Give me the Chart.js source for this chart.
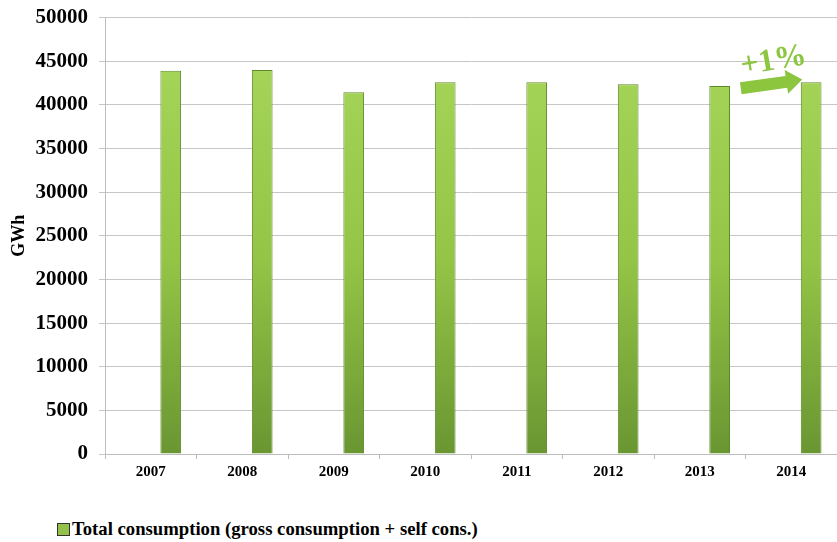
<!DOCTYPE html>
<html>
<head>
<meta charset="utf-8">
<script src="https://cdn.jsdelivr.net/npm/chart.js@4.4.0/dist/chart.umd.min.js"></script>
<style>
  body { margin: 0; background: #fff; width: 837px; height: 542px; overflow: hidden; }
  #wrap { position: absolute; left: 0; top: -6px; width: 837px; height: 491px; }
  #legend { position: absolute; left: 57px; top: 518px; font: bold 18.7px "Liberation Serif", serif; color: #000; white-space: nowrap; }
  #legend span.box { display: inline-block; width: 11px; height: 11px; background: #92c24a; border: 1px solid #333; margin-right: 2px; vertical-align: -1px; }
</style>
</head>
<body>
<div id="wrap"><canvas id="myChart"></canvas></div>
<div id="legend"><span class="box"></span>Total consumption (gross consumption + self cons.)</div>
<script>
const years = ["2007", "2008", "2009", "2010", "2011", "2012", "2013", "2014"];
const consumption = [43900, 44000, 41450, 42600, 42600, 42350, 42150, 42600];
const spacer = [null, null, null, null, null, null, null, null];
const seriesName = "Total consumption (gross consumption + self cons.)";
const yTicks = [0, 5000, 10000, 15000, 20000, 25000, 30000, 35000, 40000, 45000, 50000];

function barGradient(ctx) {
    const area = ctx.chart.chartArea;
    if (!area) return "#92c24a";
    const g = ctx.chart.ctx.createLinearGradient(0, area.top, 0, area.bottom);
    g.addColorStop(0, "#a9d85c");
    g.addColorStop(0.55, "#94c546");
    g.addColorStop(1, "#6a9632");
    return g;
}

// +1% arrow between the last two years
const arrowPlugin = {
    id: "arrow",
    afterDatasetsDraw(chart) {
        const x = chart.scales.x, y = chart.scales.y, c = chart.ctx;
        const x0 = x.getPixelForValue(6) + 41;
        const x1 = x.getPixelForValue(7) + 11;
        const y0 = y.getPixelForValue(41900);
        const y1 = y.getPixelForValue(42900);
        const ang = Math.atan2(y1 - y0, x1 - x0);
        const len = Math.hypot(x1 - x0, y1 - y0);
        c.save();
        c.translate(x0, y0);
        c.rotate(ang);
        c.fillStyle = "#8cc63f";
        c.beginPath();
        c.moveTo(0, -6);
        c.lineTo(len - 16, -6);
        c.lineTo(len - 16, -12);
        c.lineTo(len, 0);
        c.lineTo(len - 16, 12);
        c.lineTo(len - 16, 6);
        c.lineTo(0, 6);
        c.closePath();
        c.fill();
        c.restore();

        c.save();
        c.translate((x0 + x1) / 2 + 2, y.getPixelForValue(45000));
        c.rotate(-0.17);
        c.font = "bold 32px 'Liberation Serif', serif";
        c.fillStyle = "#8cc63f";
        c.textAlign = "center";
        c.textBaseline = "middle";
        c.fillText("+1%", 0, 0);
        c.restore();
    }
};

new Chart("myChart", {
    type: "bar",
    data: {
        labels: years,
        datasets: [{
            label: "",
            data: spacer,
            backgroundColor: "rgba(0,0,0,0)"
        }, {
            label: seriesName,
            data: consumption,
            backgroundColor: barGradient,
            borderColor: "#5f8a2a",
            borderWidth: 1
        }]
    },
    options: {
        responsive: true,
        maintainAspectRatio: false,
        animation: false,
        categoryPercentage: 0.87,
        barPercentage: 0.52,
        layout: { padding: { top: 0, right: 0, left: 0, bottom: 0 } },
        plugins: {
            legend: { display: false },
            tooltip: { enabled: false }
        },
        scales: {
            x: {
                grid: { drawOnChartArea: false, color: "#bdbdbd", tickLength: 5 },
                border: { color: "#bdbdbd" },
                ticks: { color: "#000", font: { family: "Liberation Serif", size: 15, weight: "bold" }, padding: 4 }
            },
            y: {
                min: 0,
                max: 50000,
                afterBuildTicks: function (axis) {
                    axis.ticks = yTicks.map(function (v) { return { value: v }; });
                },
                grid: { color: "#c6c6c6", tickLength: 6 },
                border: { color: "#bdbdbd" },
                ticks: {
                    color: "#000",
                    font: { family: "Liberation Serif", size: 21, weight: "bold" },
                    padding: 11,
                    callback: function (v) { return String(v); }
                },
                title: { display: true, text: "GWh", color: "#000", font: { family: "Liberation Serif", size: 18, weight: "bold" }, padding: { top: 9, bottom: -6 } }
            }
        }
    },
    plugins: [arrowPlugin]
});
</script>
</body>
</html>
